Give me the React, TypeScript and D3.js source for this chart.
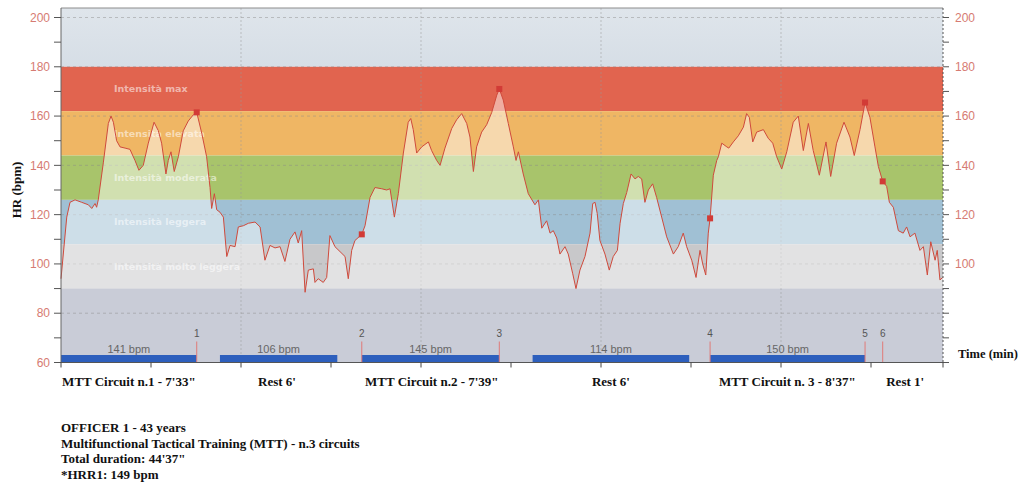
import React from "react";
import * as d3 from "d3";

// heart rate trace (minutes, bpm)
const timeMin = [
  0, 0.32, 0.5, 0.78, 1.15, 1.52, 1.71, 1.89, 1.98, 2.07, 2.35, 2.63, 2.78, 2.91, 3.09, 3.28, 3.56, 3.83, 4.11, 4.33,
  4.57, 4.85, 5.17, 5.41, 5.59, 5.83, 5.96, 6.11, 6.29, 6.52, 6.79, 7.07, 7.35, 7.54, 7.82, 8.09, 8.28, 8.37, 8.52, 8.65,
  8.83, 9.02, 9.21, 9.39, 9.67, 9.85, 10.13, 10.41, 10.78, 11.06, 11.33, 11.61, 11.89, 12.17, 12.44, 12.72, 13.0, 13.18, 13.37, 13.56,
  13.74, 14.02, 14.11, 14.29, 14.57, 14.76, 14.94, 15.22, 15.5, 15.78, 15.96, 16.15, 16.33, 16.71, 16.89, 17.17, 17.44, 17.82, 18.09, 18.28,
  18.52, 18.74, 19.02, 19.29, 19.43, 19.57, 19.76, 20.04, 20.41, 20.59, 20.87, 21.06, 21.33, 21.71, 21.98, 22.26, 22.54, 22.72, 22.91, 23.09,
  23.37, 23.65, 23.93, 24.21, 24.35, 24.57, 24.85, 25.13, 25.28, 25.41, 25.68, 25.96, 26.33, 26.52, 26.71, 26.98, 27.17, 27.35, 27.54, 27.72,
  28.0, 28.18, 28.43, 28.61, 28.83, 29.11, 29.39, 29.54, 29.67, 29.79, 29.94, 30.22, 30.46, 30.68, 30.91, 31.06, 31.24, 31.43, 31.67, 31.89,
  32.07, 32.26, 32.44, 32.63, 32.87, 33.09, 33.37, 33.65, 34.02, 34.29, 34.57, 34.76, 35.04, 35.28, 35.5, 35.65, 35.82, 35.96, 36.06, 36.24,
  36.43, 36.52, 36.71, 36.99, 37.1, 37.35, 37.63, 37.91, 38.09, 38.24, 38.43, 38.65, 39.02, 39.29, 39.54, 39.76, 40.04, 40.32, 40.68, 40.96,
  41.24, 41.52, 41.79, 42.13, 42.5, 42.76, 43.09, 43.5, 43.83, 44.07, 44.39, 44.67, 44.94, 45.22, 45.41, 45.65, 45.87, 46.02, 46.24, 46.52,
  46.79, 46.98, 47.17, 47.44, 47.72, 47.91, 48.13, 48.32, 48.56, 48.68, 48.83, 48.98,
];
const hrBpm = [
  94, 119, 125, 126, 125, 124, 122.5, 124.5, 123, 126, 141, 157, 160, 157.5, 150, 147.5, 147, 146.5, 142, 138,
  140, 149, 157.5, 154, 149, 136.5, 142, 145.5, 137.5, 143.5, 154, 158, 160.5, 161.5, 153, 143.5, 131, 122.5, 128.5, 122,
  121, 119, 103, 107.5, 107, 115, 115.5, 116.5, 117, 115, 101.5, 107.5, 106.5, 107, 101, 110, 113, 108.5, 113.5, 88.5,
  97.5, 98, 92.5, 94, 92.5, 94.5, 111.5, 107, 105, 103, 94, 105.5, 109.5, 112, 115.5, 127, 131, 130.5, 130, 130.5,
  119, 128.5, 145, 157.5, 159, 154.5, 145, 147.5, 149.5, 146, 142, 140, 147, 155, 158.5, 161, 157, 151.5, 137.5, 147.5,
  153.5, 156.5, 161.5, 168.5, 171, 166.5, 157, 147.5, 142, 145.5, 136.5, 128.5, 124, 126, 114.5, 117.5, 112.5, 113.5, 110.5, 104,
  107, 104, 96, 90, 97.5, 103, 112.5, 124.5, 125, 120.5, 109.5, 104, 97.5, 103, 105.5, 116.5, 124.5, 129, 136.5, 134.5,
  135.5, 134.5, 125, 130, 132.5, 127, 119, 111, 104, 107, 112.5, 107, 101.5, 94.5, 105.5, 100, 95.5, 112.5, 118.5, 136,
  142, 143.5, 149, 147.5, 147, 149.5, 152, 155.5, 161, 159.5, 149.5, 153.5, 154.5, 151, 149, 143.5, 138.5, 145.5, 157.5, 160,
  146, 157, 146, 136, 149.5, 135.5, 149, 157.5, 151.5, 144, 154.5, 165.5, 159.5, 147.5, 139.5, 133.5, 131.5, 125, 123, 113.5,
  112.5, 115, 111, 112.5, 105.5, 107, 95.5, 109, 101.5, 105.5, 93.5, 94.5,
];

const zoneNames = ["Intensità max", "Intensità elevata", "Intensità moderata", "Intensità leggera", "Intensità molto leggera"];
const zoneLow = [162, 144, 126, 108, 90];
const zoneHigh = [180, 162, 144, 126, 108];
const zoneColors = ["#e1644f", "#efb664", "#a8c46b", "#a0c0d4", "#c8c8ca"];

const markerLabels = ["1", "2", "3", "4", "5", "6"];
const markerTimes = [7.54, 16.71, 24.35, 36.06, 44.67, 45.65];
const markerHr = [161.5, 112, 171, 118.5, 165.5, 133.5];

const barStart = [0, 8.83, 16.71, 26.2, 36.06];
const barEnd = [7.54, 15.35, 24.35, 34.9, 44.67];
const barMeanBpm = [141, 106, 145, 114, 150];

const phaseLabels = ["MTT Circuit n.1 - 7'33\"", "Rest 6'", "MTT Circuit n.2 - 7'39\"", "Rest 6'", "MTT Circuit n. 3 - 8'37\"", "Rest 1'"];
const phaseCenters = [3.77, 12.0, 20.6, 30.55, 40.35, 46.9];

const noteLines = [
  "OFFICER 1 - 43 years",
  "Multifunctional Tactical Training (MTT) - n.3 circuits",
  "Total duration: 44'37\"",
  "*HRR1: 149 bpm",
];

const yTicks = d3.range(60, 201, 10);
const xTicks = d3.range(0, 46, 5);
const xGrid = [10, 20, 30, 40];

export default function App() {
  const left = 61;
  const right = 943;
  const top = 8;
  const x = d3.scaleLinear().domain([0, 49]).range([left, right]);
  const y = d3.scaleLinear().domain([60, 200]).range([362.5, 17.5]);
  const bottom = y(60);

  const pts = timeMin.map((t, i) => [t, hrBpm[i]] as [number, number]);
  const line = d3.line<[number, number]>().x((d) => x(d[0])).y((d) => y(d[1]));
  const area = d3
    .area<[number, number]>()
    .x((d) => x(d[0]))
    .y0(y(90))
    .y1((d) => y(d[1]));

  const sans = "'Liberation Sans', Arial, sans-serif";
  const serif = "'Liberation Serif', 'Times New Roman', serif";
  const tickColor = "#d67b72";

  return (
    <svg
      width={1020}
      height={482}
      style={{ position: "absolute", left: 0, top: 0, background: "#fff" }}
    >
      <defs>
        <linearGradient id="topBand" x1="0" y1="0" x2="0" y2="1">
          <stop offset="0%" stopColor="#dfe5eb" />
          <stop offset="100%" stopColor="#d6dee6" />
        </linearGradient>
        <clipPath id="above90">
          <rect x={left} y={top} width={right - left} height={y(90) - top} />
        </clipPath>
      </defs>

      {/* background bands */}
      <rect x={left} y={top} width={right - left} height={y(180) - top} fill="url(#topBand)" />
      {zoneNames.map((n, i) => (
        <rect
          key={n}
          x={left}
          y={y(zoneHigh[i])}
          width={right - left}
          height={y(zoneLow[i]) - y(zoneHigh[i])}
          fill={zoneColors[i]}
        />
      ))}
      <rect x={left} y={y(90)} width={right - left} height={bottom - y(90)} fill="#c9ccd7" />

      {/* grid */}
      {d3.range(80, 201, 20).map((v) => (
        <line key={v} x1={left} x2={right} y1={y(v)} y2={y(v)} stroke="#8a8a8a" strokeOpacity={0.45} strokeDasharray="3,3" />
      ))}
      {xGrid.map((t) => (
        <line key={t} x1={x(t)} x2={x(t)} y1={top} y2={bottom} stroke="#9a9a9a" strokeOpacity={0.5} strokeDasharray="2,2" />
      ))}

      {/* zone labels */}
      {zoneNames.map((n, i) => (
        <text
          key={n}
          x={114}
          y={y((zoneLow[i] + zoneHigh[i]) / 2)}
          dy="0.35em"
          fontFamily="'DejaVu Sans', sans-serif"
          fontSize={9.5}
          fontWeight="bold"
          fill="#fff"
          fillOpacity={0.55}
        >
          {n}
        </text>
      ))}

      {/* area under HR curve */}
      <path d={area(pts) ?? ""} fill="#fff" fillOpacity={0.47} clipPath="url(#above90)" />
      <path d={line(pts) ?? ""} fill="none" stroke="#cf4a3c" strokeWidth={1} />
      {markerTimes.map((t, i) => (
        <rect key={i} x={x(t) - 3} y={y(markerHr[i]) - 3} width={6} height={6} fill="#d23b36" />
      ))}

      {/* phase bars */}
      {barStart.map((s, i) => (
        <g key={i}>
          <rect x={x(s)} y={bottom - 7.5} width={x(barEnd[i]) - x(s)} height={7.5} fill="#2d5fbd" />
          <text
            x={(x(s) + x(barEnd[i])) / 2}
            y={bottom - 10}
            textAnchor="middle"
            fontFamily={sans}
            fontSize={11}
            fill="#666"
          >
            {barMeanBpm[i]} bpm
          </text>
        </g>
      ))}
      {markerTimes.map((t, i) => (
        <g key={i}>
          <line x1={x(t)} x2={x(t)} y1={bottom - 21} y2={bottom} stroke="#e07a78" strokeWidth={1} />
          <text x={x(t)} y={bottom - 26} textAnchor="middle" fontFamily={sans} fontSize={10} fill="#555">
            {markerLabels[i]}
          </text>
        </g>
      ))}

      {/* frame */}
      <line x1={left} x2={right} y1={top} y2={top} stroke="#8c8c8c" />
      <line x1={left} x2={left} y1={top} y2={bottom} stroke="#666" />
      <line x1={right} x2={right} y1={top} y2={bottom} stroke="#555" strokeDasharray="2,2" />
      <line x1={left} x2={right + 1} y1={bottom} y2={bottom} stroke="#555" />

      {/* y axes */}
      {yTicks.map((v) => (
        <g key={v}>
          <line x1={left - 7} x2={left} y1={y(v)} y2={y(v)} stroke="#555" />
          <line x1={right} x2={right + 6} y1={y(v)} y2={y(v)} stroke="#555" />
          {v % 20 === 0 && (
            <text x={50} y={y(v)} dy="0.35em" textAnchor="end" fontFamily={sans} fontSize={12} fill={tickColor}>
              {v}
            </text>
          )}
          {v % 20 === 0 && v >= 100 && (
            <text x={955} y={y(v)} dy="0.35em" fontFamily={sans} fontSize={12} fill={tickColor}>
              {v}
            </text>
          )}
        </g>
      ))}

      {/* x ticks */}
      {xTicks.concat([49]).map((t) => (
        <line key={t} x1={x(t)} x2={x(t)} y1={bottom} y2={bottom + 5} stroke="#444" />
      ))}

      {phaseLabels.map((p, i) => (
        <text
          key={i}
          x={x(phaseCenters[i])}
          y={386}
          textAnchor="middle"
          fontFamily={serif}
          fontWeight="bold"
          fontSize={13}
          fill="#111"
        >
          {p}
        </text>
      ))}

      <text x={958} y={358} fontFamily={serif} fontWeight="bold" fontSize={12.5} fill="#111">
        Time (min)
      </text>
      <text
        transform={`translate(21, 190) rotate(-90)`}
        textAnchor="middle"
        fontFamily={serif}
        fontWeight="bold"
        fontSize={13}
        fill="#111"
      >
        HR (bpm)
      </text>

      {noteLines.map((n, i) => (
        <text key={i} x={61} y={432 + i * 15.5} fontFamily={serif} fontWeight="bold" fontSize={13} fill="#111">
          {n}
        </text>
      ))}
    </svg>
  );
}
